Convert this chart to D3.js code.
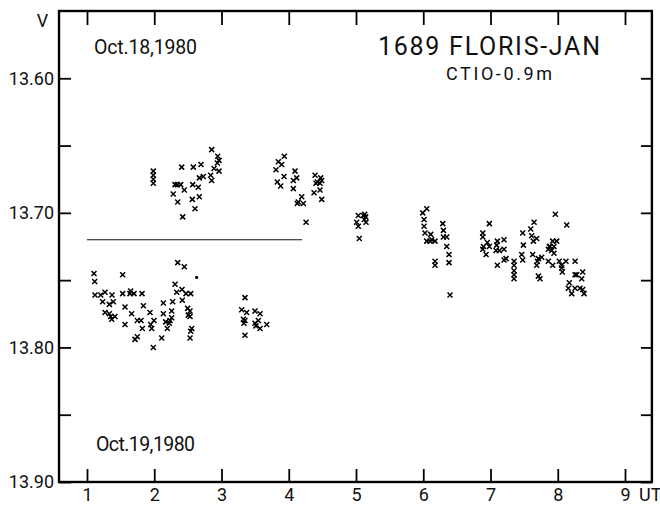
<!DOCTYPE html>
<html>
<head>
<meta charset="utf-8">
<script src="https://cdn.jsdelivr.net/npm/d3@7"></script>
<style>
  html, body { margin: 0; padding: 0; background: #fff; }
  svg { display: block; }
  text { font-family: Roboto, "DejaVu Sans", sans-serif; fill: #111; }
</style>
</head>
<body>
<svg id="chart" width="660" height="506"></svg>
<script>
// V magnitude of 1689 Floris-Jan against UT, two nights (CTIO 0.9 m)
const xTicks = [1, 2, 3, 4, 5, 6, 7, 8, 9];
const yTicks = [13.60, 13.65, 13.70, 13.75, 13.80, 13.85, 13.90];
const yLabels = [13.60, 13.70, 13.80, 13.90];

// Oct. 18, 1980  [UT, V]
const oct18 = [
  [1.986,13.669],[1.986,13.672],[1.986,13.675],[1.986,13.678],
  [2.408,13.666],[2.581,13.666],[2.695,13.664],[2.854,13.653],[2.944,13.658],
  [2.963,13.661],[2.938,13.663],[2.889,13.667],[2.963,13.669],[2.839,13.672],
  [2.854,13.676],[2.729,13.673],[2.670,13.674],[2.309,13.679],[2.393,13.679],
  [2.343,13.679],[2.572,13.679],[2.447,13.683],[2.655,13.681],[2.283,13.686],
  [2.670,13.688],[2.566,13.690],[2.349,13.692],[2.606,13.697],[2.423,13.703],
  [3.934,13.658],[3.845,13.662],[3.895,13.664],[3.810,13.668],[4.093,13.669],
  [4.118,13.674],[4.068,13.676],[3.930,13.673],[3.830,13.677],[3.880,13.680],
  [4.068,13.682],[4.193,13.688],[4.142,13.692],[4.217,13.693],[4.127,13.693],
  [4.257,13.707],[4.391,13.672],[4.475,13.674],[4.425,13.677],[4.465,13.678],
  [4.405,13.678],[4.490,13.676],[4.465,13.683],[4.376,13.685],[4.490,13.690],
  [5.034,13.702],[5.109,13.702],[5.144,13.703],[5.124,13.705],[5.010,13.707],
  [5.149,13.707],[5.034,13.710],[5.130,13.701],[5.049,13.719],
  [5.992,13.700],[6.052,13.697],[6.012,13.705],[6.012,13.710],[6.026,13.715],
  [6.111,13.716],[6.052,13.721],[6.101,13.721],[6.126,13.720],[6.175,13.721],
  [6.175,13.736],[6.175,13.739],[6.290,13.708],[6.300,13.713],[6.300,13.718],
  [6.349,13.718],[6.349,13.725],[6.383,13.731],[6.383,13.737],[6.398,13.761],
  [6.983,13.708],[6.885,13.715],[6.885,13.718],[6.953,13.722],[6.895,13.725],
  [6.983,13.725],[6.885,13.727],[6.934,13.731],[7.102,13.721],[7.201,13.720],
  [7.092,13.724],[7.082,13.728],[7.132,13.728],[7.201,13.727],[7.102,13.739],
  [7.231,13.734],[7.201,13.735],[7.350,13.736],[7.350,13.739],[7.350,13.743],
  [7.350,13.746],[7.350,13.749],[7.479,13.715],[7.489,13.724],[7.464,13.731],
  [7.479,13.735],[7.598,13.712],[7.648,13.707],[7.613,13.717],[7.687,13.719],
  [7.638,13.721],[7.628,13.731],[7.697,13.736],[7.712,13.734],[7.687,13.739],
  [7.761,13.733],[7.712,13.747],[7.736,13.749],[7.860,13.736],[7.925,13.739],
  [7.875,13.725],[7.925,13.721],[7.984,13.721],[7.885,13.725],[7.944,13.725],
  [7.910,13.728],[7.944,13.730],[7.860,13.727],[7.964,13.701],[8.133,13.709],
  [8.023,13.736],[8.058,13.739],[8.058,13.741],[8.068,13.744],[8.122,13.736],
  [8.257,13.736],[8.172,13.752],[8.157,13.756],[8.207,13.760],[8.257,13.756],
  [8.257,13.746],[8.282,13.746],[8.371,13.744],[8.356,13.749],[8.371,13.757],
  [8.391,13.760],[8.331,13.756]
];

// Oct. 19, 1980  [UT, V]
const oct19 = [
  [1.104,13.745],[1.114,13.751],[1.119,13.761],[1.204,13.761],[1.268,13.759],
  [1.372,13.761],[1.233,13.766],[1.332,13.768],[1.391,13.766],[1.530,13.746],
  [1.530,13.760],[1.639,13.760],[1.699,13.760],[1.649,13.758],[1.818,13.760],
  [1.565,13.770],[1.664,13.775],[1.838,13.769],[1.268,13.774],[1.332,13.775],
  [1.352,13.777],[1.416,13.777],[1.367,13.779],[1.565,13.783],[1.748,13.780],
  [1.803,13.780],[1.714,13.794],[1.748,13.792],[1.986,13.800],[1.937,13.774],
  [1.996,13.780],[1.947,13.783],[1.962,13.786],[1.823,13.786],[2.111,13.793],
  [2.135,13.767],[2.135,13.775],[2.194,13.786],[2.259,13.773],[2.274,13.766],
  [2.170,13.781],[2.234,13.780],[2.259,13.778],[2.224,13.782],[2.309,13.753],
  [2.334,13.759],[2.413,13.757],[2.472,13.760],[2.542,13.760],[2.417,13.765],
  [2.497,13.771],[2.532,13.773],[2.506,13.776],[2.532,13.777],[2.557,13.786],
  [2.542,13.788],[2.532,13.793],[2.349,13.737],[2.447,13.740],
  [3.349,13.763],[3.300,13.772],[3.374,13.774],[3.325,13.779],[3.349,13.780],
  [3.334,13.782],[3.349,13.791],[3.498,13.773],[3.573,13.775],[3.548,13.780],
  [3.498,13.782],[3.513,13.784],[3.573,13.786],[3.672,13.783]
];

// single unresolved reading shown as a dot
const stray = [[2.631, 13.748]];

// mean level drawn across the early part of the run
const refLevel = 13.72;
const refSpan = [1.0, 4.2];

const svg = d3.select("#chart");
const x = d3.scaleLinear().domain([1, 9]).range([87, 625]);
const y = d3.scaleLinear().domain([13.55, 13.90]).range([11, 482]);

const frameLeft = x(0.584), frameRight = x(9.40);
const frameTop = y(13.55), frameBottom = y(13.90);

// inward ticks on all four sides
const tickStyle = g => {
  g.select(".domain").remove();
  g.selectAll(".tick line").attr("stroke", "#000").attr("stroke-width", 1.8);
  g.selectAll(".tick text").style("font-size", "18px").attr("fill", "#111");
};

svg.append("g").attr("transform", `translate(0,${frameBottom})`)
  .call(d3.axisBottom(x).tickValues(xTicks).tickSizeInner(-13).tickSizeOuter(0)
        .tickPadding(6).tickFormat(d3.format("d")))
  .call(tickStyle);

svg.append("g").attr("transform", `translate(0,${frameTop})`)
  .call(d3.axisTop(x).tickValues(xTicks).tickSizeInner(-14).tickSizeOuter(0).tickFormat(""))
  .call(tickStyle);

svg.append("g").attr("transform", `translate(${frameLeft},0)`)
  .call(d3.axisLeft(y).tickValues(yTicks).tickSizeInner(-12).tickSizeOuter(0).tickPadding(5)
        .tickFormat(d => yLabels.some(v => Math.abs(v - d) < 1e-9) ? d3.format(".2f")(d) : ""))
  .call(tickStyle);

svg.append("g").attr("transform", `translate(${frameRight},0)`)
  .call(d3.axisRight(y).tickValues(yTicks).tickSizeInner(-11).tickSizeOuter(0).tickFormat(""))
  .call(tickStyle);

// frame
svg.append("rect")
  .attr("x", frameLeft).attr("y", frameTop)
  .attr("width", frameRight - frameLeft).attr("height", frameBottom - frameTop)
  .attr("fill", "none").attr("stroke", "#000").attr("stroke-width", 2.4);

// axis names
svg.append("text").attr("x", 42.5).attr("y", 27).attr("text-anchor", "middle")
  .style("font-size", "18px").text("V");
svg.append("text").attr("x", 639).attr("y", 501)
  .style("font-size", "18px").text("UT");

// annotations
svg.append("text").attr("x", 94).attr("y", 54).attr("textLength", 103)
  .attr("lengthAdjust", "spacing").style("font-size", "19.5px").text("Oct.18,1980");
svg.append("text").attr("x", 96).attr("y", 451).attr("textLength", 99)
  .attr("lengthAdjust", "spacing").style("font-size", "19.5px").text("Oct.19,1980");
svg.append("text").attr("x", 378).attr("y", 55).attr("textLength", 222)
  .attr("lengthAdjust", "spacing").style("font-size", "25px").text("1689 FLORIS-JAN");
svg.append("text").attr("x", 446).attr("y", 80).attr("textLength", 106)
  .attr("lengthAdjust", "spacing").style("font-size", "18px").text("CTIO-0.9m");

// reference level
svg.append("line")
  .attr("x1", x(refSpan[0])).attr("x2", x(refSpan[1]))
  .attr("y1", y(refLevel)).attr("y2", y(refLevel))
  .attr("stroke", "#111").attr("stroke-width", 1.1);

// observations as crosses
const cross = "M-2.5,-2.5L2.5,2.5M-2.5,2.5L2.5,-2.5";
svg.append("g").selectAll("path")
  .data(oct18.concat(oct19))
  .join("path")
  .attr("d", cross)
  .attr("transform", d => `translate(${x(d[0])},${y(d[1])})`)
  .attr("stroke", "#000").attr("stroke-width", 1.5).attr("fill", "none");

svg.append("g").selectAll("circle")
  .data(stray)
  .join("circle")
  .attr("cx", d => x(d[0])).attr("cy", d => y(d[1])).attr("r", 1.6)
  .attr("fill", "#000");
</script>
</body>
</html>
